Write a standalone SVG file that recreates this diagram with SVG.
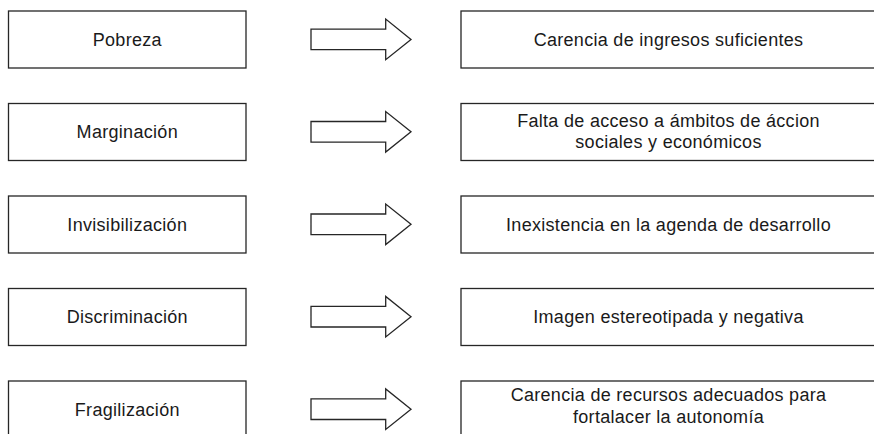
<svg xmlns="http://www.w3.org/2000/svg" width="874" height="434" viewBox="0 0 874 434">
<style>
.box{fill:#fff;stroke:#262626;stroke-width:1.3}
.arr{fill:#fff;stroke:#262626;stroke-width:1.3;stroke-linejoin:miter}
text{font-family:"Liberation Sans",Arial,Helvetica,sans-serif;font-size:18px;letter-spacing:0.3px;fill:#1a1a1a;text-anchor:middle}
</style>
<defs>
<path id="a" d="M0,-10.3 H74.7 V-20.3 L100,0 L74.7,20.3 V10.3 H0 Z"/>
</defs>
<rect width="874" height="434" fill="#fff"/>
<g id="n-pobreza"><rect class="box" x="8.5" y="11" width="237.5" height="57"/><text x="127.3" y="45.5">Pobreza</text></g>
<g id="n-marginacion"><rect class="box" x="8.5" y="103.5" width="237.5" height="57"/><text x="127.3" y="138">Marginación</text></g>
<g id="n-invisibilizacion"><rect class="box" x="8.5" y="196" width="237.5" height="57"/><text x="127.3" y="230.5">Invisibilización</text></g>
<g id="n-discriminacion"><rect class="box" x="8.5" y="288.5" width="237.5" height="57"/><text x="127.3" y="323">Discriminación</text></g>
<g id="n-fragilizacion"><rect class="box" x="8.5" y="381" width="237.5" height="57"/><text x="127.3" y="415.5">Fragilización</text></g>
<g id="r-ingresos"><rect class="box" x="461" y="11" width="415" height="57"/><text x="668.5" y="45.5">Carencia de ingresos suficientes</text></g>
<g id="r-acceso"><rect class="box" x="461" y="103.5" width="415" height="57"/><text x="668.5" y="126.7">Falta de acceso a ámbitos de áccion</text><text x="668.5" y="148">sociales y económicos</text></g>
<g id="r-agenda"><rect class="box" x="461" y="196" width="415" height="57"/><text x="668.5" y="230.5">Inexistencia en la agenda de desarrollo</text></g>
<g id="r-imagen"><rect class="box" x="461" y="288.5" width="415" height="57"/><text x="668.5" y="323">Imagen estereotipada y negativa</text></g>
<g id="r-recursos"><rect class="box" x="461" y="381" width="415" height="57"/><text x="668.5" y="401">Carencia de recursos adecuados para</text><text x="668.5" y="422.5">fortalacer la autonomía</text></g>
<g id="connectors">
<use href="#a" class="arr" transform="translate(311,39.4)"/>
<use href="#a" class="arr" transform="translate(311,131.8)"/>
<use href="#a" class="arr" transform="translate(311,224.3)"/>
<use href="#a" class="arr" transform="translate(311,316.7)"/>
<use href="#a" class="arr" transform="translate(311,409.2)"/>
</g>
</svg>
